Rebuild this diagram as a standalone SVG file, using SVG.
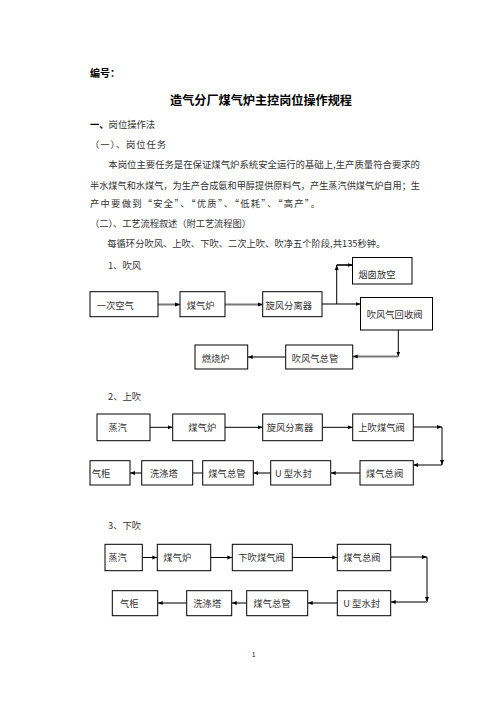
<svg xmlns="http://www.w3.org/2000/svg" width="496" height="702" viewBox="0 0 496 702">
<style>
text{font-family:"Noto Sans CJK SC","Noto Sans",sans-serif;font-size:9.3px;fill:#333}
.b{font-weight:bold;fill:#000}
.box{fill:#fff;stroke:#000;stroke-width:1}
.t{fill:none;stroke:#000;stroke-width:1}
.g{fill:none;stroke:#7a7a7a;stroke-width:2}
.pg{font-size:6px;fill:#000}
</style>
<defs>
<marker id="a" viewBox="0 0 10 10" refX="10" refY="5" markerWidth="5" markerHeight="5" markerUnits="userSpaceOnUse" orient="auto"><path d="M0,1 L10,5 L0,9 z" fill="#000"/></marker>
</defs>
<rect width="496" height="702" fill="#fff"/>

<text x="90" y="77" class="b" style="font-size:10px">编号：</text>
<text x="170" y="104.5" class="b" style="font-size:12.2px" textLength="182" lengthAdjust="spacingAndGlyphs">造气分厂煤气炉主控岗位操作规程</text>
<text x="90" y="127.5"><tspan class="b">一、</tspan>岗位操作法</text>
<text x="90" y="147.5" textLength="76" lengthAdjust="spacing">（一）、岗位任务</text>
<text x="108.3" y="167.8" textLength="311.7" lengthAdjust="spacingAndGlyphs">本岗位主要任务是在保证煤气炉系统安全运行的基础上,生产质量符合要求的</text>
<text x="90" y="188.5" textLength="330" lengthAdjust="spacingAndGlyphs">半水煤气和水煤气，为生产合成氨和甲醇提供原料气，产生蒸汽供煤气炉自用；生</text>
<text x="90" y="206.5" textLength="230" lengthAdjust="spacing">产中要做到“安全”、“优质”、“低耗”、“高产”。</text>
<text x="90" y="226.5" textLength="161" lengthAdjust="spacing">（二）、工艺流程叙述（附工艺流程图）</text>
<text x="107.3" y="246.5" textLength="278" lengthAdjust="spacingAndGlyphs">每循环分吹风、上吹、下吹、二次上吹、吹净五个阶段,共135秒钟。</text>
<text x="108" y="268.5">1、吹风</text>
<text x="108" y="399.5">2、上吹</text>
<text x="108" y="528.5">3、下吹</text>
<text x="252" y="657" class="pg">1</text>

<g id="connectors">
<path class="g" d="M158,304.5 H180" marker-end="url(#a)"/>
<path class="g" d="M225,304.5 H262.7" marker-end="url(#a)"/>
<path class="g" d="M322,304 H360.5" marker-end="url(#a)"/>
<path class="t" d="M336.7,304 V265" marker-end="url(#a)"/>
<path class="t" style="stroke-width:1.6" d="M336.7,265 H352.5" marker-end="url(#a)"/>
<path class="t" d="M398.3,330 V356.5" marker-end="url(#a)"/>
<path class="g" d="M398.3,356.5 H352.7" marker-end="url(#a)"/>
<path class="g" d="M285.7,357 H247.7" marker-end="url(#a)"/>
<path class="t" d="M150,427.3 H172.7" marker-end="url(#a)"/>
<path class="t" d="M225,427.3 H262.7" marker-end="url(#a)"/>
<path class="t" d="M322.3,427.3 H352.7" marker-end="url(#a)"/>
<path class="t" d="M413.3,427 H442" marker-end="url(#a)"/>
<path class="t" d="M442,427 V465" marker-end="url(#a)"/>
<path class="t" d="M442,465 H413.3" marker-end="url(#a)"/>
<path class="g" d="M360,473 H330.7" marker-end="url(#a)"/>
<path class="g" d="M270.7,473 H253.3" marker-end="url(#a)"/>
<path class="t" d="M202.7,473 H192.7"/>
<path class="g" d="M141.7,473 H130" marker-end="url(#a)"/>
<path class="t" d="M142.3,557.5 H157.3" marker-end="url(#a)"/>
<path class="t" d="M210.7,557.5 H232.3" marker-end="url(#a)"/>
<path class="t" d="M292.3,557.5 H337.3" marker-end="url(#a)"/>
<path class="t" d="M390.7,557 H427" marker-end="url(#a)"/>
<path class="t" d="M427,557 V602" marker-end="url(#a)"/>
<path class="g" d="M427,602 H390.7" marker-end="url(#a)"/>
<path class="g" d="M337.3,603 H307.7" marker-end="url(#a)"/>
<path class="g" d="M246.7,603 H231.7" marker-end="url(#a)"/>
<path class="g" d="M186.7,603 H157.7" marker-end="url(#a)"/>
</g>

<g id="s1-yicikongqi"><rect class="box" x="90" y="291.7" width="68" height="25"/><text x="96.7" y="308.5">一次空气</text></g>
<g id="s1-meiqilu"><rect class="box" x="180" y="291.7" width="45" height="25"/><text x="186.7" y="308.5">煤气炉</text></g>
<g id="s1-xuanfeng"><rect class="box" x="262.7" y="291.7" width="59.3" height="25"/><text x="265.5" y="308.5">旋风分离器</text></g>
<g id="s1-yancong"><rect class="box" x="352.5" y="257.5" width="59.5" height="26.5"/><text x="358.3" y="277.8">烟囱放空</text></g>
<g id="s1-huishoufa"><rect class="box" x="360.5" y="297.5" width="72" height="32.5"/><text x="366.7" y="317.8">吹风气回收阀</text></g>
<g id="s1-zongguan"><rect class="box" x="285.7" y="345" width="67" height="24"/><text x="291.7" y="361.5">吹风气总管</text></g>
<g id="s1-ranshaolu"><rect class="box" x="195" y="345" width="52.7" height="24"/><text x="201.7" y="361.5">燃烧炉</text></g>

<g id="s2-zhengqi"><rect class="box" x="97" y="414" width="53" height="26.7"/><text x="108.3" y="431">蒸汽</text></g>
<g id="s2-meiqilu"><rect class="box" x="172.7" y="414" width="52.3" height="26.7"/><text x="188.3" y="431">煤气炉</text></g>
<g id="s2-xuanfeng"><rect class="box" x="262.7" y="414" width="59.6" height="26.7"/><text x="266.7" y="431">旋风分离器</text></g>
<g id="s2-shangchuifa"><rect class="box" x="352.7" y="414" width="60.6" height="26.7"/><text x="358.3" y="431">上吹煤气阀</text></g>
<g id="s2-zongfa"><rect class="box" x="360" y="460.7" width="53.3" height="24.3"/><text x="366" y="476.5">煤气总阀</text></g>
<g id="s2-ushuifeng"><rect class="box" x="270.7" y="460.7" width="60" height="24.3"/><text x="275" y="476.5">U 型水封</text></g>
<g id="s2-zongguan"><rect class="box" x="202.7" y="460.7" width="50.6" height="24.3"/><text x="208.3" y="476.5">煤气总管</text></g>
<g id="s2-xidita"><rect class="box" x="141.7" y="460.7" width="51" height="24.3"/><text x="150" y="476.5">洗涤塔</text></g>
<g id="s2-qigui"><rect class="box" x="90" y="460.7" width="40" height="24.3"/><text x="91.7" y="476.5">气柜</text></g>

<g id="s3-zhengqi"><rect class="box" x="105" y="544.3" width="37.3" height="26.4"/><text x="108.3" y="561">蒸汽</text></g>
<g id="s3-meiqilu"><rect class="box" x="157.3" y="544.3" width="53.4" height="26.4"/><text x="163.3" y="561">煤气炉</text></g>
<g id="s3-xiachuifa"><rect class="box" x="232.3" y="544.3" width="60" height="26.4"/><text x="238.3" y="561">下吹煤气阀</text></g>
<g id="s3-zongfa"><rect class="box" x="337.3" y="544.3" width="53.4" height="26.4"/><text x="343.3" y="561">煤气总阀</text></g>
<g id="s3-ushuifeng"><rect class="box" x="337.3" y="590.7" width="53.4" height="25"/><text x="343.3" y="606.5">U 型水封</text></g>
<g id="s3-zongguan"><rect class="box" x="246.7" y="590.7" width="61" height="25"/><text x="253.3" y="606.5">煤气总管</text></g>
<g id="s3-xidita"><rect class="box" x="186.7" y="590.7" width="45" height="25"/><text x="193.3" y="606.5">洗涤塔</text></g>
<g id="s3-qigui"><rect class="box" x="112.3" y="590.7" width="45.4" height="25"/><text x="120" y="606.5">气柜</text></g>
</svg>
